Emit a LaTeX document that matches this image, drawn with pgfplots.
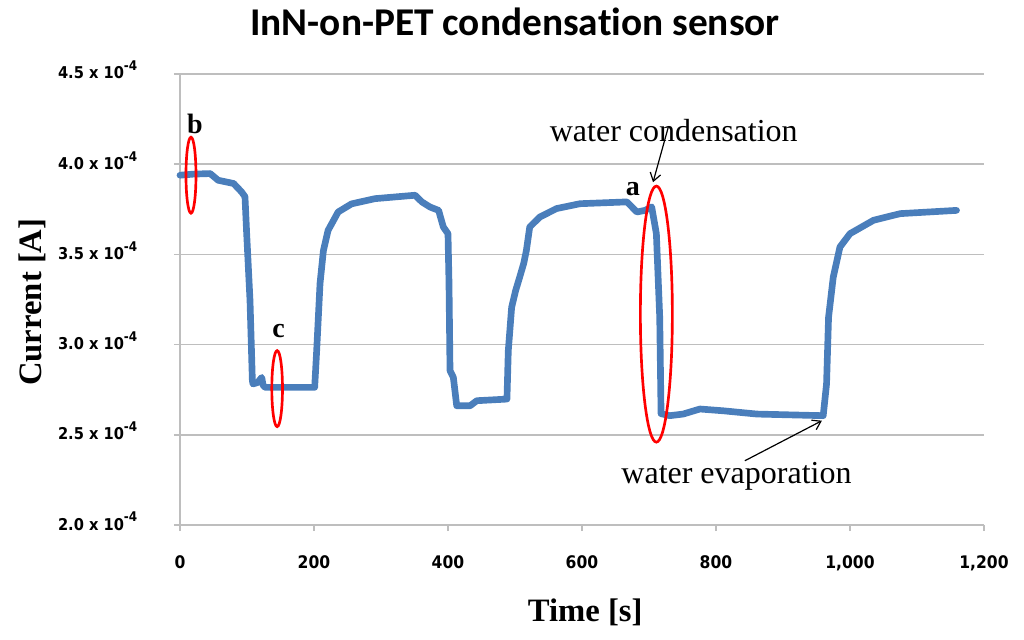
\documentclass[border=0pt]{standalone}
\usepackage{pgfplots}
\pgfplotsset{compat=1.18}
\usetikzlibrary{arrows.meta}
\usepackage{fontspec}
\setmainfont{Liberation Serif}
\newfontfamily\tickfont{DejaVu Sans Condensed}
\newfontfamily\titlefont{Carlito}[Ligatures=NoCommon]
\definecolor{curve}{HTML}{4A7EBB}
\definecolor{gridgray}{HTML}{BEBEBE}
\definecolor{ringred}{HTML}{FF0000}
\newcommand{\sci}[1]{#1 x 10\raisebox{0.5em}{\fontsize{10}{10}\selectfont -4}}

\begin{document}
\begin{tikzpicture}
\useasboundingbox (-135pt,-85.5pt) rectangle (633pt,393.75pt);
\begin{axis}[
  scale only axis, width=603pt, height=338.25pt,
  xmin=0, xmax=1200, ymin=2, ymax=4.5,
  axis x line*=bottom, axis y line*=left,
  axis line style={gridgray, line width=1.3pt, -},
  xtick={0,200,400,600,800,1000,1200},
  xticklabels={0,200,400,600,800,{1,000},{1,200}},
  ytick={2,2.5,3,3.5,4,4.5},
  yticklabels={\sci{2.0},\sci{2.5},\sci{3.0},\sci{3.5},\sci{4.0},\sci{4.5}},
  tick align=outside, major tick length=4.5pt,
  tick style={gridgray, line width=1.3pt},
  ymajorgrids, grid style={gridgray, line width=1.3pt},
  xticklabel style={font=\tickfont\bfseries\fontsize{13}{13}\selectfont, anchor=base, yshift=-28pt},
  yticklabel style={font=\tickfont\bfseries\fontsize{12.2}{12.2}\selectfont, anchor=base east, yshift=-3.75pt, xshift=-24pt},
  xlabel={Time [s]},
  ylabel={Current [A]},
  xlabel style={font=\bfseries\fontsize{24.5}{24.5}\selectfont, at={(axis description cs:0.504,-0.213)}, anchor=base},
  ylabel style={font=\bfseries\fontsize{24.5}{24.5}\selectfont, at={(axis description cs:-0.184,0.494)}, anchor=center},
  title={InN-on-PET condensation sensor},
  title style={font=\titlefont\bfseries\fontsize{29.5}{29.5}\selectfont, at={(axis description cs:0.4167,1.067)}, anchor=base},
  clip=false,
]
\addplot[curve, line width=5pt, line join=round, line cap=round] coordinates {
  (0,3.939) (20,3.945) (45,3.948) (57,3.911) (80,3.893) (92,3.846) (97,3.82)
  (99.5,3.616) (104.5,3.244) (108,2.80) (109,2.782) (116,2.79) (122,2.818)
  (124,2.775) (127,2.763) (201,2.763) (204,2.967) (209,3.339) (214,3.52)
  (221,3.633) (236,3.735) (256,3.78) (291,3.809) (351,3.828) (361,3.791)
  (373,3.763) (386,3.744) (393,3.652) (400,3.615) (401.5,3.339) (403,2.856)
  (408,2.818) (413,2.661) (433,2.661) (443,2.689) (488,2.698) (490,2.967)
  (495,3.207) (501,3.30) (507,3.374) (513,3.45) (517,3.522) (522,3.652)
  (537,3.707) (562,3.754) (597,3.781) (667,3.791) (682,3.735) (694,3.744)
  (704,3.763) (711,3.615) (716,3.152) (718,2.617) (731,2.606) (751,2.615)
  (776,2.643) (811,2.633) (861,2.615) (960,2.606) (965,2.782) (968,3.152)
  (975,3.374) (985,3.541) (1000,3.615) (1035,3.689) (1075,3.726) (1159,3.744)
};
% red rings
\draw[ringred, line width=2pt] (axis cs:16.4,3.939) ellipse [x radius=3.75pt, y radius=28.5pt];
\draw[ringred, line width=2pt] (axis cs:145,2.756) ellipse [x radius=4pt, y radius=28.5pt];
\draw[ringred, line width=2pt] (axis cs:711,3.169) ellipse [x radius=12pt, y radius=96pt];
% letters
\node[anchor=base, inner sep=0pt, font=\bfseries\fontsize{21}{21}\selectfont] at (axis cs:22.4,4.172) {b};
\node[anchor=base, inner sep=0pt, font=\bfseries\fontsize{21}{21}\selectfont] at (axis cs:147,3.039) {c};
\node[anchor=base, inner sep=0pt, font=\bfseries\fontsize{21}{21}\selectfont] at (axis cs:676,3.828) {a};
% arrows and notes
\node[anchor=base, inner sep=0pt, font=\fontsize{24}{24}\selectfont] at (axis cs:737,4.128) {water condensation};
\node[anchor=base, inner sep=0pt, font=\fontsize{24}{24}\selectfont] at (axis cs:830.6,2.228) {water evaporation};
\draw[black, line width=0.9pt, -{Straight Barb[length=6pt, width=8pt]}] (axis cs:728.4,4.2) -- (axis cs:706,3.9);
\draw[black, line width=0.9pt, -{Straight Barb[length=6pt, width=8pt]}] (axis cs:843,2.356) -- (axis cs:958,2.578);
\end{axis}
\end{tikzpicture}
\end{document}
